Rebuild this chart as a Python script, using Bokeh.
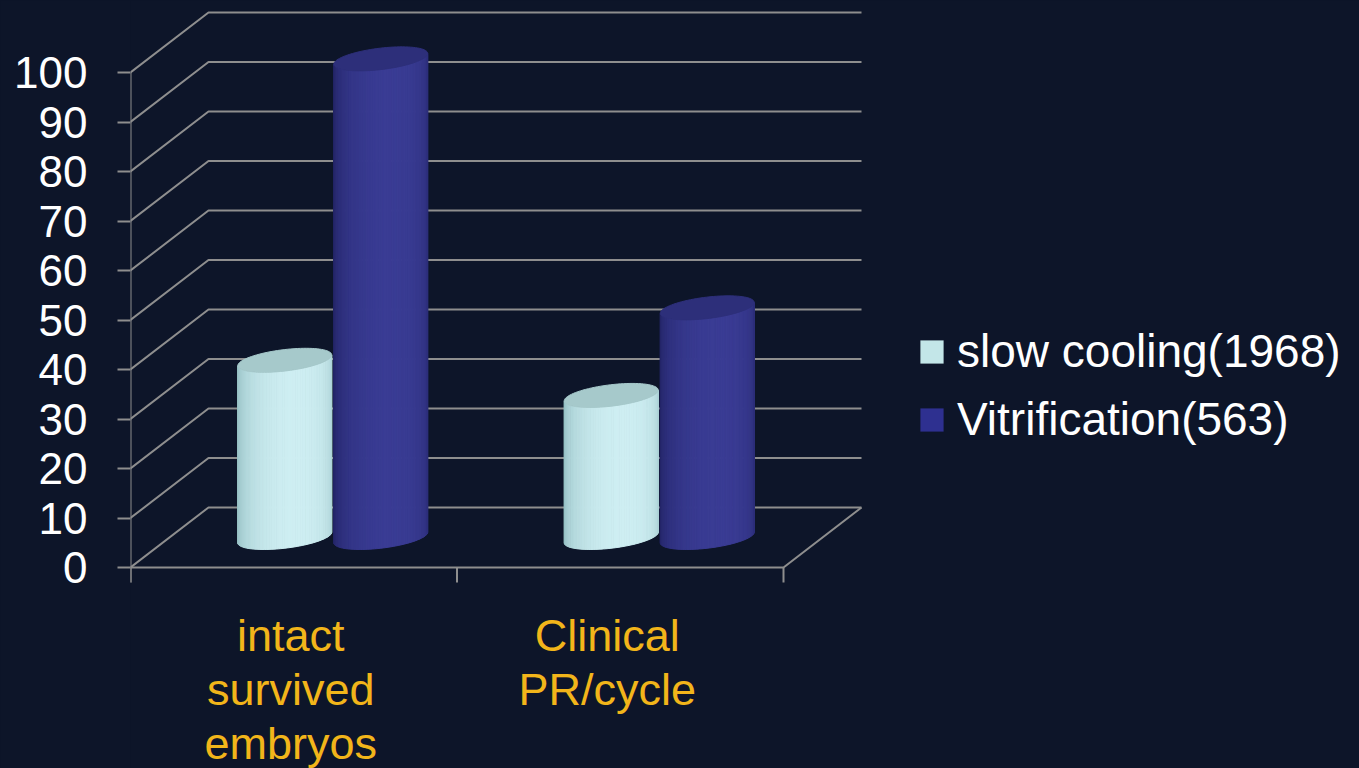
import numpy as np
from bokeh.plotting import figure
from bokeh.models import FixedTicker, Legend, LegendItem, Range1d
from bokeh.core.properties import value
from bokeh.embed import file_html
from bokeh.resources import INLINE

# ---- data -------------------------------------------------------------
categories = ["intact\nsurvived\nembryos", "Clinical\nPR/cycle"]
series_names = ["slow cooling(1968)", "Vitrification(563)"]
slow_cooling = [35.8, 28.7]
vitrification = [96.7, 46.4]
y_ticks = [0, 10, 20, 30, 40, 50, 60, 70, 80, 90, 100]

# ---- styling / geometry ----------------------------------------------
W, H = 1359, 768
FRAME_LEFT = 130          # pixel column of the front value axis
BASE_PX = 567             # pixel row of value 0 on the front plane
PX_X = 326.5              # pixels per category slot
PX_Y = 4.95               # pixels per value unit
DX = 78 / PX_X            # depth offset of the back wall (x, data units)
DY = 60 / PX_Y            # depth offset of the back wall (y, data units)
BAR_DEPTH = 0.5           # cylinders sit halfway into the box
BAR_SHIFT = 48 / PX_X     # half distance between the two cylinders of a group
R_A, R_S, R_B = 42.0, 21.0, 12.0   # cylinder ellipse (px): half-width, shear, half-height

BG = "#0d1529"
GRID = "#8e8e8e"
GOLD = "#f2b51a"
FONT = "Liberation Sans"

SERIES_STYLE = [
    # edge colour, highlight colour, cap colour, legend swatch
    ((150, 192, 196), (206, 238, 242), "#a6c9cb", "#c3e6e8"),
    ((36, 38, 104), (58, 60, 148), "#2d2f7a", "#2e3090"),
]

n_cat = len(categories)

p = figure(
    width=W, height=H, output_backend="svg", toolbar_location=None,
    x_range=Range1d(0, (W - FRAME_LEFT) / PX_X),
    y_range=Range1d(-(H - BASE_PX) / PX_Y, BASE_PX / PX_Y),
    x_axis_location=None,
    min_border_left=FRAME_LEFT, min_border_right=0,
    min_border_top=0, min_border_bottom=0,
    background_fill_color=BG, border_fill_color=BG, outline_line_color=None,
)
p.grid.visible = False

# value axis: ticks + labels from the axis, line drawn separately
ax = p.yaxis[0]
ax.ticker = FixedTicker(ticks=y_ticks)
ax.axis_line_color = None
ax.major_tick_line_color = GRID
ax.major_tick_line_width = 2
ax.major_tick_out = 13
ax.major_tick_in = 0
ax.minor_tick_line_color = None
ax.major_label_standoff = 30
ax.major_label_text_font = FONT
ax.major_label_text_font_size = "44px"
ax.major_label_text_color = "white"

# back wall / side wall grid lines
xs, ys = [], []
for t in y_ticks:
    xs.append([0, DX, n_cat + DX])
    ys.append([t, t + DY, t + DY])
# floor front edge and right edge
xs.append([0, n_cat, n_cat + DX])
ys.append([0, 0, DY])
p.multi_line(xs, ys, line_color=GRID, line_width=2)

# front value axis line and category separators
tick_len = 15 / PX_Y
p.segment(x0=[0], y0=[y_ticks[-1]], x1=[0], y1=[-tick_len], line_color=GRID, line_width=2)
seps = list(range(n_cat + 1))
p.segment(x0=seps, y0=[0] * len(seps), x1=seps, y1=[-tick_len] * len(seps),
          line_color=GRID, line_width=2)


def to_hex(c):
    return "#%02x%02x%02x" % tuple(int(round(v)) for v in c)


def cylinder(cx, val, edge, hi, cap, n=56):
    """Shaded cylinder standing at category x position cx with height val."""
    xc = cx + BAR_DEPTH * DX
    yb = BAR_DEPTH * DY
    yt = val + BAR_DEPTH * DY
    ax_, sx_, by_ = R_A / PX_X, R_S / PX_X, R_B / PX_Y
    t_r = np.arctan2(R_S, R_A)
    tt = t_r + np.pi + np.pi * np.arange(n + 1) / n   # front (lower) arc, left -> right
    ex = ax_ * np.cos(tt) + sx_ * np.sin(tt)
    ey = by_ * np.sin(tt)
    pxs, pys, cols = [], [], []
    edge = np.array(edge, float)
    hi = np.array(hi, float)
    for k in range(n):
        u = (k + 0.5) / n
        inten = max(0.0, np.cos((u - 0.58) * np.pi * 0.95)) ** 0.8
        col = to_hex(edge + (hi - edge) * inten)
        x0, x1 = xc + ex[k], xc + ex[k + 1]
        pxs.append([x0, x1, x1, x0])
        pys.append([yb + ey[k], yb + ey[k + 1], yt + ey[k + 1], yt + ey[k]])
        cols.append(col)
    p.patches(pxs, pys, fill_color=cols, line_color=cols, line_width=1)
    tc = np.linspace(0, 2 * np.pi, 90)
    cap_x = list(xc + ax_ * np.cos(tc) + sx_ * np.sin(tc))
    cap_y = list(yt + by_ * np.sin(tc))
    p.patch(cap_x, cap_y, fill_color=cap, line_color=cap, line_width=1)


for i in range(n_cat):
    centre = i + 0.5
    for s, vals in enumerate([slow_cooling, vitrification]):
        edge, hi, cap, _ = SERIES_STYLE[s]
        cylinder(centre + (2 * s - 1) * BAR_SHIFT, vals[i], edge, hi, cap)

# category labels under the front edge
p.text(
    x=[i + 0.5 for i in range(n_cat)],
    y=[-42 / PX_Y] * n_cat,
    text=categories,
    x_offset=[-3, -13],
    text_align="center", text_baseline="top",
    text_font=value(FONT), text_font_size="45px",
    text_color=GOLD, text_line_height=1.065,
)

# legend swatches (legend-only renderers, nothing drawn in the plot area)
swatches = []
for s in range(len(series_names)):
    nan = np.array([np.nan])
    swatches.append(p.quad(left=nan, right=nan, top=nan, bottom=nan,
                           fill_color=SERIES_STYLE[s][3], line_color=None))
legend = Legend(
    items=[LegendItem(label=series_names[s], renderers=[swatches[s]])
           for s in range(len(series_names))],
    location=(787, 322),
    glyph_width=29, glyph_height=29, label_standoff=11, spacing=14,
    padding=0, margin=0, border_line_color=None, background_fill_alpha=0,
    label_text_font=FONT, label_text_font_size="46px", label_text_color="white",
)
p.add_layout(legend)

html = file_html(p, INLINE)
# dark page behind the canvas so panel edges blend in
html = html.replace("</head>", "<style>html, body { margin: 0; background: %s; }</style>\n</head>" % BG, 1)
open("out.html", "w").write(html)
